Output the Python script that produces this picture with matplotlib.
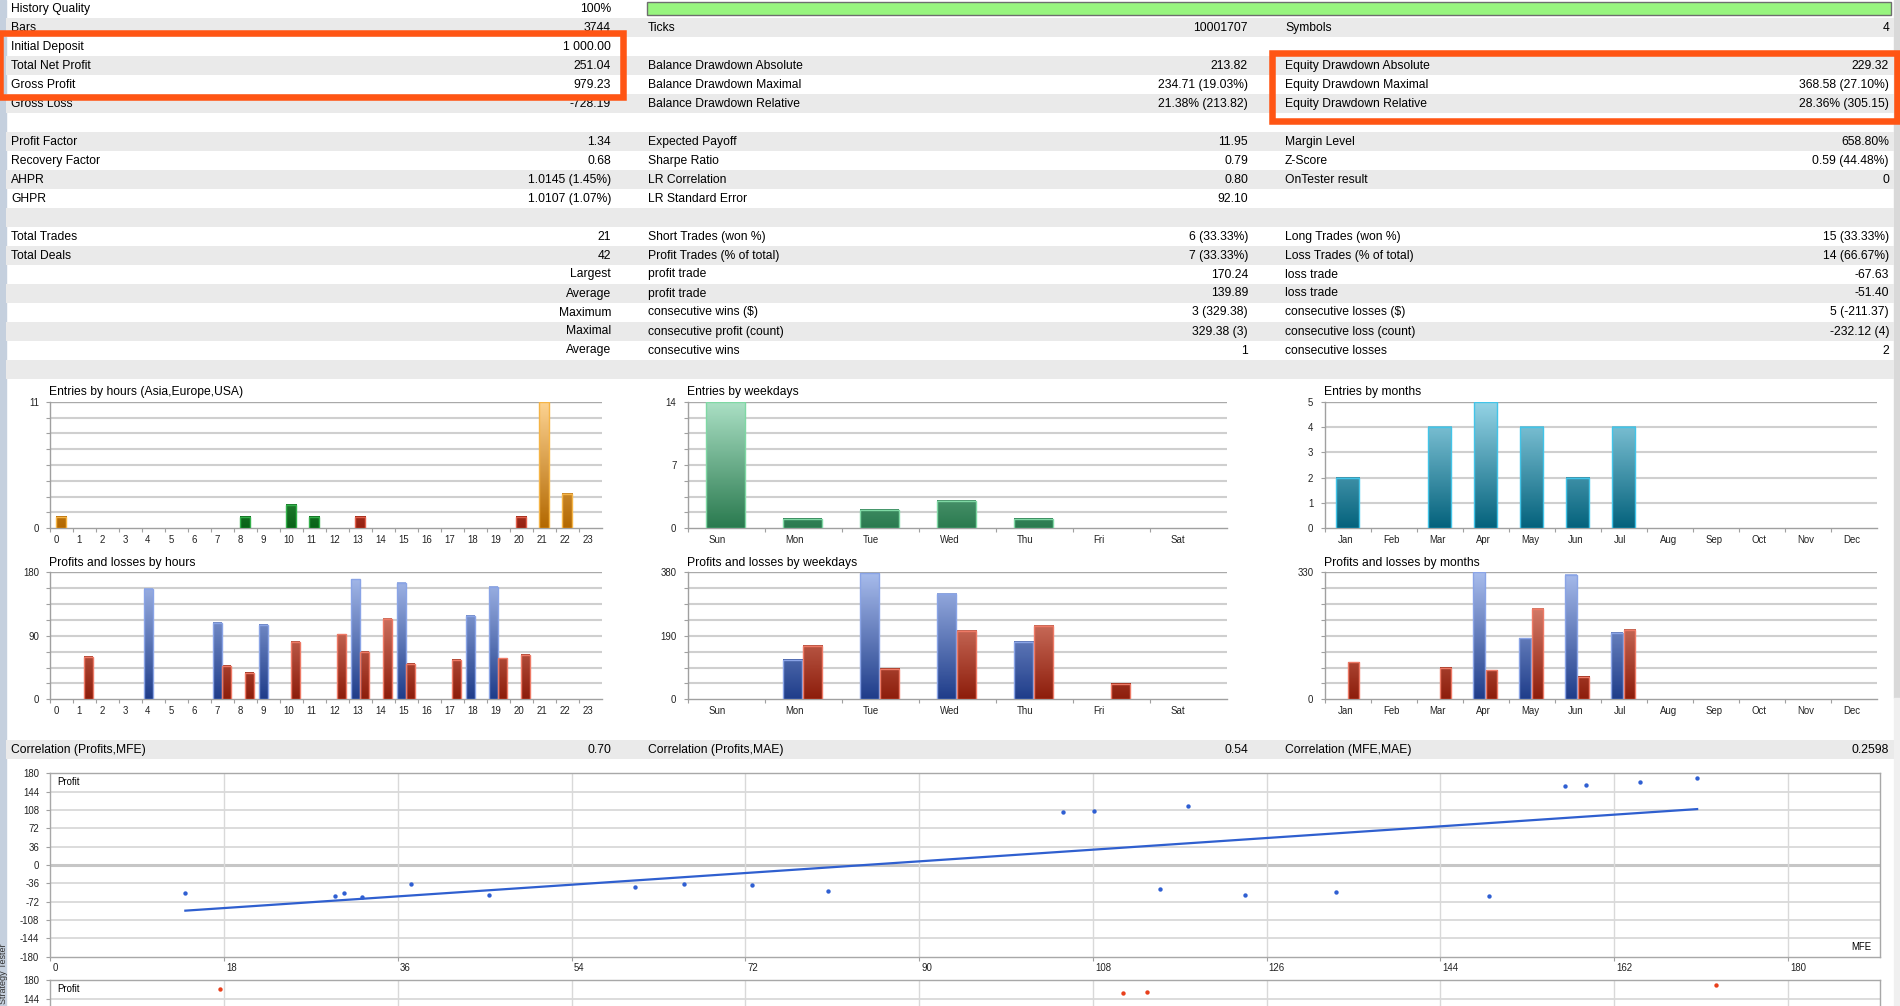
import numpy as np
import matplotlib
matplotlib.use('Agg')
import matplotlib.pyplot as plt
from matplotlib.patches import Rectangle
from matplotlib.colors import LinearSegmentedColormap

W, H = 1900, 1006
plt.rcParams['font.family'] = ['Liberation Sans', 'DejaVu Sans']

# ------------------------------------------------------------------ data
col1_labels = ['History Quality', 'Bars', 'Initial Deposit', 'Total Net Profit', 'Gross Profit',
               'Gross Loss', '', 'Profit Factor', 'Recovery Factor', 'AHPR', 'GHPR', '',
               'Total Trades', 'Total Deals', '', '', '', '', '']
col1_values = ['100%', '3744', '1 000.00', '251.04', '979.23', '-728.19', '', '1.34', '0.68',
               '1.0145 (1.45%)', '1.0107 (1.07%)', '', '21', '42', 'Largest', 'Average',
               'Maximum', 'Maximal', 'Average']
col2_labels = ['', 'Ticks', '', 'Balance Drawdown Absolute', 'Balance Drawdown Maximal',
               'Balance Drawdown Relative', '', 'Expected Payoff', 'Sharpe Ratio', 'LR Correlation',
               'LR Standard Error', '', 'Short Trades (won %)', 'Profit Trades (% of total)',
               'profit trade', 'profit trade', 'consecutive wins ($)', 'consecutive profit (count)',
               'consecutive wins']
col2_values = ['', '10001707', '', '213.82', '234.71 (19.03%)', '21.38% (213.82)', '', '11.95',
               '0.79', '0.80', '92.10', '', '6 (33.33%)', '7 (33.33%)', '170.24', '139.89',
               '3 (329.38)', '329.38 (3)', '1']
col3_labels = ['', 'Symbols', '', 'Equity Drawdown Absolute', 'Equity Drawdown Maximal',
               'Equity Drawdown Relative', '', 'Margin Level', 'Z-Score', 'OnTester result', '', '',
               'Long Trades (won %)', 'Loss Trades (% of total)', 'loss trade', 'loss trade',
               'consecutive losses ($)', 'consecutive loss (count)', 'consecutive losses']
col3_values = ['', '4', '', '229.32', '368.58 (27.10%)', '28.36% (305.15)', '', '658.80%',
               '0.59 (44.48%)', '0', '', '', '15 (33.33%)', '14 (66.67%)', '-67.63', '-51.40',
               '5 (-211.37)', '-232.12 (4)', '2']
history_quality = 100  # percent

corr_labels = ['Correlation (Profits,MFE)', 'Correlation (Profits,MAE)', 'Correlation (MFE,MAE)']
corr_values = ['0.70', '0.54', '0.2598']

hours = [str(h) for h in range(24)]
hour_entries = [1, 0, 0, 0, 0, 0, 0, 0, 1, 0, 2, 1, 0, 1, 0, 0, 0, 0, 0, 0, 1, 11, 3, 0]
hour_session = ['Asia'] * 8 + ['Europe'] * 5 + ['USA'] * 8 + ['Asia'] * 3
hour_profits = [0, 0, 0, 0, 157, 0, 0, 108, 0, 105, 0, 0, 0, 170, 0, 165, 0, 0, 118, 159, 0, 0, 0, 0]
hour_losses = [0, 60, 0, 0, 0, 0, 0, 47, 37, 0, 81, 0, 92, 67.6, 114, 50, 0, 56, 0, 58, 63, 0, 0, 0]

weekdays = ['Sun', 'Mon', 'Tue', 'Wed', 'Thu', 'Fri', 'Sat']
weekday_entries = [14, 1, 2, 3, 1, 0, 0]
weekday_profits = [0, 118, 377, 316, 171, 0, 0]
weekday_losses = [0, 159, 92, 205, 220, 47, 0]

months = ['Jan', 'Feb', 'Mar', 'Apr', 'May', 'Jun', 'Jul', 'Aug', 'Sep', 'Oct', 'Nov', 'Dec']
month_entries = [2, 0, 4, 5, 4, 2, 4, 0, 0, 0, 0, 0]
month_profits = [0, 0, 0, 330, 158, 323, 172, 0, 0, 0, 0, 0]
month_losses = [96, 0, 81, 75, 234, 59, 180, 0, 0, 0, 0, 0]

mfe = [14.0, 29.5, 30.4, 32.3, 37.4, 45.5, 60.6, 65.7, 72.7, 80.6, 104.9, 108.1, 115.0,
       117.9, 123.8, 133.2, 149.0, 156.9, 159.1, 164.7, 170.6]
profit = [-55.0, -60.2, -55.6, -62.8, -37.3, -58.9, -43.2, -37.3, -39.9, -50.4, 103.4, 106.7,
          -47.1, 116.5, -58.2, -53.7, -60.2, 155.8, 157.7, 163.6, 170.2]
# second scatter (Profits vs MAE): only the points visible at the top edge
mae_visible = [17.6, 111.1, 113.6, 172.6]
profit_mae_visible = [163.6, 155.8, 157.7, 170.2]

# ------------------------------------------------------------------ figure
fig = plt.figure(figsize=(W / 100, H / 100), dpi=100, facecolor='white')
bg = fig.add_axes([0, 0, 1, 1])
bg.set_xlim(0, W)
bg.set_ylim(H, 0)
bg.axis('off')

FS = 8.7
TICK_FS = 6.9
GRAY_BAND = '#eaeaea'
ROW = 19

# sidebar and right strip
bg.add_patch(Rectangle((0, 0), 6, H, color='#c5d0de', zorder=1))
bg.add_patch(Rectangle((1894, 0), 6, 698, color='#d9d9d9', zorder=1))
bg.add_patch(Rectangle((1894, 698), 6, H - 698, color='#f0f0f0', zorder=1))
bg.text(3.5, 1004, 'Strategy Tester', rotation=90, ha='center', va='bottom', fontsize=6.5,
        color='#333333', zorder=2)

# table rows
for i in range(len(col1_labels) + 1):
    if i % 2 == 1:
        bg.add_patch(Rectangle((6, ROW * i - 1), 1888, ROW, color=GRAY_BAND, lw=0, zorder=1))

X1L, X1R = 11, 611
X2L, X2R = 648, 1248
X3L, X3R = 1285, 1889
for i in range(len(col1_labels)):
    yc = ROW * i + 8.5
    for lab, val, xl, xr in ((col1_labels[i], col1_values[i], X1L, X1R),
                             (col2_labels[i], col2_values[i], X2L, X2R),
                             (col3_labels[i], col3_values[i], X3L, X3R)):
        if lab:
            bg.text(xl, yc, lab, ha='left', va='center', fontsize=FS, color='black', zorder=3)
        if val:
            bg.text(xr, yc, val, ha='right', va='center', fontsize=FS, color='black', zorder=3)

# history quality bar
bar_len = (1890.5 - 647) * history_quality / 100
bg.add_patch(Rectangle((647, 1.7), bar_len, 13.6, facecolor='#98f57f', edgecolor='#6e6e6e',
                       lw=1, zorder=3))

# correlation row
bg.add_patch(Rectangle((6, 740), 1888, ROW, color=GRAY_BAND, lw=0, zorder=1))
for lab, val, xl, xr in zip(corr_labels, corr_values, (X1L, X2L, X3L), (X1R, X2R, X3R)):
    bg.text(xl, 750, lab, ha='left', va='center', fontsize=FS, zorder=3)
    bg.text(xr, 750, val, ha='right', va='center', fontsize=FS, zorder=3)

# orange highlight boxes
ORANGE = '#ff5514'
bg.add_patch(Rectangle((0, 32.5), 622.5, 64.5, fill=False, edgecolor=ORANGE, lw=4.7,
                       zorder=6, clip_on=False))
bg.add_patch(Rectangle((1271.5, 52.5), 625.5, 68.5, fill=False, edgecolor=ORANGE, lw=4.7,
                       zorder=6, clip_on=False))


def px_axes(x0, y0, x1, y1):
    ax = fig.add_axes([x0 / W, 1 - y1 / H, (x1 - x0) / W, (y1 - y0) / H])
    ax.patch.set_alpha(0)
    return ax


def cmap(c0, c1):
    return LinearSegmentedColormap.from_list('g', [c0, c1])


CM_ASIA = cmap('#b36800', '#fdd392')
CM_EUROPE = cmap('#096217', '#7fe08f')
CM_USA = cmap('#962010', '#f0a090')
CM_BLUE = cmap('#1f3d8a', '#a8bcec')
CM_RED = cmap('#8d1d0b', '#f0a08e')
CM_WEEK = cmap('#2a7a4f', '#abe0c5')
CM_MONTH = cmap('#04627c', '#95d4e6')
EDGE = {'asia': '#f5b446', 'europe': '#33b04a', 'usa': '#e0604c', 'blue': '#8aa4e6',
        'red': '#ee7a66', 'week': '#7fd8a4', 'month': '#42c4e8'}


def grad_bar(ax, x, w, h, ymax, cm, edge):
    if h <= 0:
        return
    g = np.linspace(0, h / ymax, 120).reshape(-1, 1)
    ax.imshow(g, extent=[x, x + w, 0, h], origin='lower', cmap=cm, vmin=0, vmax=1,
              aspect='auto', zorder=3, interpolation='bilinear')
    ax.add_patch(Rectangle((x, 0), w, h, fill=False, edgecolor=edge, lw=1.0, zorder=4))


def hist_frame(ax, n, ymax, nlines, ylabels, cats, label_dx_px, width_px):
    for k in range(1, nlines + 1):
        y = ymax * k / nlines
        ax.axhline(y, color='#a9a9a9' if k == nlines else '#cfcfcf',
                   lw=1.0 if k == nlines else 1.5, zorder=1)
    for s in ('top', 'right'):
        ax.spines[s].set_visible(False)
    for s in ('left', 'bottom'):
        ax.spines[s].set_color('#a0a0a0')
        ax.spines[s].set_linewidth(1.0)
    ax.set_xlim(0, n)
    ax.set_ylim(0, ymax)
    ax.set_xticks(range(n))
    ax.set_xticklabels([])
    dx = label_dx_px / (width_px / n)
    ax.set_xticks([i + dx for i in range(n)], minor=True)
    ax.set_xticklabels(cats, minor=True, ha='left', fontsize=TICK_FS, color='#222222')
    yt = [ymax * k / nlines for k in range(nlines + 1)]
    ax.set_yticks(yt)
    ax.set_yticklabels([ylabels.get(k, '') for k in range(nlines + 1)], fontsize=TICK_FS,
                       color='#222222')
    ax.tick_params(axis='both', which='major', direction='out', length=3, width=0.8,
                   color='#a0a0a0')
    ax.tick_params(axis='x', which='minor', length=0, pad=4.5)
    ax.tick_params(axis='y', pad=5)


def title(ax_x0, y, text):
    bg.text(ax_x0 - 1, y, text, ha='left', va='center', fontsize=FS, zorder=3)


session_style = {'Asia': (CM_ASIA, EDGE['asia']), 'Europe': (CM_EUROPE, EDGE['europe']),
                 'USA': (CM_USA, EDGE['usa'])}

ENT_Y = (401.7, 528.3)
PL_Y = (572.3, 699.3)
HX = (50.2, 602.4)
WX = (687.6, 1226.7)
MX = (1324.5, 1876.7)

# ---- hours
ax = px_axes(HX[0], ENT_Y[0], HX[1], ENT_Y[1])
for i, v in enumerate(hour_entries):
    cm, ed = session_style[hour_session[i]]
    grad_bar(ax, i + 0.25, 0.44, v, 11, cm, ed)
hist_frame(ax, 24, 11, 8, {0: '0', 8: '11'}, hours, 3, HX[1] - HX[0])
title(HX[0], 391.7, 'Entries by hours (Asia,Europe,USA)')

ax = px_axes(HX[0], PL_Y[0], HX[1], PL_Y[1])
for i in range(24):
    grad_bar(ax, i + 0.09, 0.37, hour_profits[i], 180, CM_BLUE, EDGE['blue'])
    grad_bar(ax, i + 0.47, 0.37, hour_losses[i], 180, CM_RED, EDGE['red'])
hist_frame(ax, 24, 180, 8, {0: '0', 4: '90', 8: '180'}, hours, 3, HX[1] - HX[0])
title(HX[0], 562.7, 'Profits and losses by hours')

# ---- weekdays
ax = px_axes(WX[0], ENT_Y[0], WX[1], ENT_Y[1])
for i, v in enumerate(weekday_entries):
    grad_bar(ax, i + 0.24, 0.50, v, 14, CM_WEEK, EDGE['week'])
hist_frame(ax, 7, 14, 8, {0: '0', 4: '7', 8: '14'}, weekdays, 21, WX[1] - WX[0])
title(WX[0], 391.7, 'Entries by weekdays')

ax = px_axes(WX[0], PL_Y[0], WX[1], PL_Y[1])
for i in range(7):
    grad_bar(ax, i + 0.24, 0.25, weekday_profits[i], 380, CM_BLUE, EDGE['blue'])
    grad_bar(ax, i + 0.50, 0.25, weekday_losses[i], 380, CM_RED, EDGE['red'])
hist_frame(ax, 7, 380, 8, {0: '0', 4: '190', 8: '380'}, weekdays, 21, WX[1] - WX[0])
title(WX[0], 562.7, 'Profits and losses by weekdays')

# ---- months
ax = px_axes(MX[0], ENT_Y[0], MX[1], ENT_Y[1])
for i, v in enumerate(month_entries):
    grad_bar(ax, i + 0.24, 0.51, v, 5, CM_MONTH, EDGE['month'])
hist_frame(ax, 12, 5, 5, {k: str(k) for k in range(6)}, months, 13, MX[1] - MX[0])
title(MX[0], 391.7, 'Entries by months')

ax = px_axes(MX[0], PL_Y[0], MX[1], PL_Y[1])
for i in range(12):
    grad_bar(ax, i + 0.23, 0.25, month_profits[i], 330, CM_BLUE, EDGE['blue'])
    grad_bar(ax, i + 0.50, 0.25, month_losses[i], 330, CM_RED, EDGE['red'])
hist_frame(ax, 12, 330, 8, {0: '0', 8: '330'}, months, 13, MX[1] - MX[0])
title(MX[0], 562.7, 'Profits and losses by months')


# ---- scatter plots
SX = (50.2, 1879.6)
SXMAX = 189.5
X_TICKS = list(range(0, 181, 18))
Y_TICKS = list(range(-180, 181, 36))


def scatter_frame(ax, show_xlabels=True, ylabel_set=None):
    ax.set_xlim(0, SXMAX)
    ax.set_ylim(-180, 180)
    for yv in range(-144, 180, 36):
        if yv == 0:
            ax.axhline(0, color='#c6c6c6', lw=2.2, zorder=1)
        else:
            ax.axhline(yv, color='#dcdcdc', lw=1.4, zorder=1)
    for xv in range(18, 190, 18):
        ax.axvline(xv, color='#d9d9d9', lw=1.0, zorder=1)
    for s in ax.spines.values():
        s.set_color('#a8a8a8')
        s.set_linewidth(1.0)
    ax.set_xticks(X_TICKS)
    ax.set_xticklabels([])
    ax.set_yticks(Y_TICKS)
    ax.set_yticklabels([str(v) if (ylabel_set is None or v in ylabel_set) else ''
                        for v in Y_TICKS])
    ax.tick_params(axis='both', which='major', direction='out', length=3, width=0.8,
                   color='#a0a0a0', labelsize=TICK_FS, labelcolor='#222222')
    ax.tick_params(axis='y', pad=5)
    if show_xlabels:
        dx = 2 / ((SX[1] - SX[0]) / SXMAX)
        ax.set_xticks([v + dx for v in X_TICKS], minor=True)
        ax.set_xticklabels([str(v) for v in X_TICKS], minor=True, ha='left',
                           fontsize=TICK_FS, color='#222222')
        ax.tick_params(axis='x', which='minor', length=0, pad=4.5)


ax = px_axes(SX[0], 773.3, SX[1], 956.7)
scatter_frame(ax)
ax.scatter(mfe, profit, s=10, color='#2f5fd2', zorder=5, linewidths=0)
k, b = np.polyfit(mfe, profit, 1)
xs = np.array([min(mfe), max(mfe)])
ax.plot(xs, k * xs + b, color='#2f5fcf', lw=1.6, zorder=4)
bg.text(57, 782.3, 'Profit', fontsize=TICK_FS, ha='left', va='center', zorder=3)
bg.text(1871.4, 947.3, 'MFE', fontsize=TICK_FS, ha='right', va='center', zorder=3)

ax2 = px_axes(SX[0], 980.3, SX[1], 1163.7)
scatter_frame(ax2, show_xlabels=False, ylabel_set={180, 144})
ax2.scatter(mae_visible, profit_mae_visible, s=10, color='#e8401c', zorder=5, linewidths=0)
bg.text(57, 989, 'Profit', fontsize=TICK_FS, ha='left', va='center', zorder=3)

fig.savefig('out.png', dpi=100, facecolor='white')
